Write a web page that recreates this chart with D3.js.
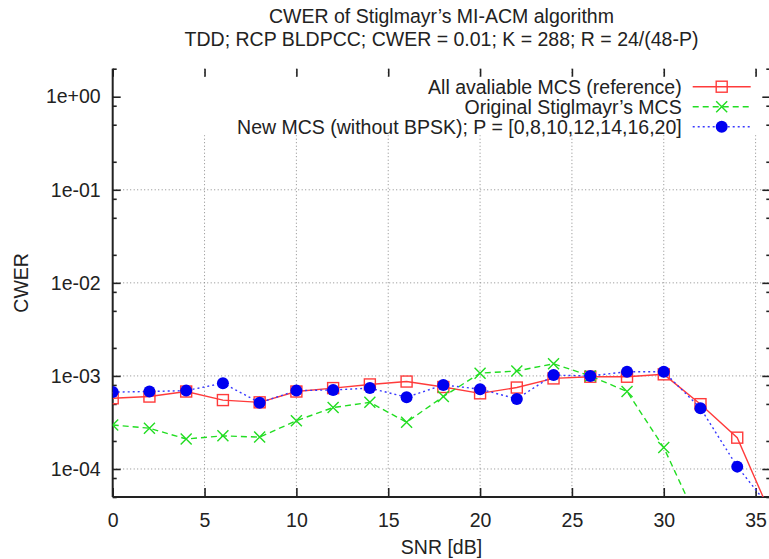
<!DOCTYPE html>
<html>
<head>
<meta charset="utf-8">
<script src="https://cdnjs.cloudflare.com/ajax/libs/d3/7.8.5/d3.min.js"></script>
<style>
    body { margin: 0; background: #fff; }
    svg text { font-family: "Liberation Sans", Arial, Helvetica, sans-serif; fill: #222; }
</style>
</head>
<body>
<div id="chart"></div>
<script>
    'use strict';

    // SNR points in dB
    var snr = [0, 2, 4, 6, 8, 10, 12, 14, 16, 18, 20, 22, 24, 26, 28, 30, 32, 34, 36];

    // CWER values
    var cwerReference = [5.75e-4, 6.0e-4, 6.8e-4, 5.5e-4, 5.2e-4, 6.8e-4, 7.4e-4, 8.1e-4, 8.7e-4, 7.6e-4,
        6.5e-4, 7.5e-4, 9.4e-4, 9.8e-4, 9.8e-4, 1.04e-3, 4.97e-4, 2.17e-4, 2.7e-5];
    var cwerOriginal = [2.97e-4, 2.74e-4, 2.1e-4, 2.27e-4, 2.2e-4, 3.3e-4, 4.57e-4, 5.2e-4, 3.18e-4, 6.0e-4,
        1.07e-3, 1.13e-3, 1.35e-3, 1.0e-3, 6.8e-4, 1.7e-4, 2.4e-5];
    var cwerNew = [6.7e-4, 6.8e-4, 6.95e-4, 8.35e-4, 5.16e-4, 6.95e-4, 7.07e-4, 7.4e-4, 5.9e-4, 8.0e-4,
        7.2e-4, 5.66e-4, 1.02e-3, 1.0e-3, 1.11e-3, 1.11e-3, 4.5e-4, 1.06e-4, 3.4e-5];

    var seriesNames = [
        'All avaliable MCS (reference)',
        'Original Stiglmayr\u2019s MCS',
        'New MCS (without BPSK); P = [0,8,10,12,14,16,20]'
    ];

    var xTicks = [0, 5, 10, 15, 20, 25, 30, 35];
    var yTicks = [1e-4, 1e-3, 1e-2, 1e-1, 1e0];
    var yTickLabels = ['1e-04', '1e-03', '1e-02', '1e-01', '1e+00'];
    var yMinorMantissa = [2, 5, 8];

    var titleLines = [
        'CWER of Stiglmayr\u2019s MI-ACM algorithm',
        'TDD; RCP BLDPCC; CWER = 0.01; K = 288; R = 24/(48-P)'
    ];

    var width = 769, height = 559;
    var margin = {top: 68.7, right: -1.3, bottom: 62, left: 112.7};
    var plotW = width - margin.left - margin.right;
    var plotH = height - margin.top - margin.bottom;
    var fontSize = 19.5;

    var svg = d3.select('#chart').append('svg')
        .attr('width', width)
        .attr('height', height);

    var x = d3.scaleLinear().domain([0, 35.8]).range([0, plotW]);
    var y = d3.scaleLog().domain([5e-5, 2]).range([plotH, 0]);

    // minor ticks on the log axis
    var yMinor = [];
    [-5, -4, -3, -2, -1, 0].forEach(function (e) {
        yMinorMantissa.forEach(function (m) {
            var v = m * Math.pow(10, e);
            if (v >= 5e-5 && v <= 2) yMinor.push(v);
        });
    });

    svg.append('defs').append('clipPath').attr('id', 'plotClip')
        .append('rect').attr('width', plotW).attr('height', plotH);

    var g = svg.append('g')
        .attr('transform', 'translate(' + margin.left + ',' + margin.top + ')');

    // grid
    var grid = g.append('g').attr('stroke', '#8a8a8a').attr('stroke-width', 1)
        .attr('stroke-dasharray', '1,2.5');
    grid.selectAll('.gx').data(xTicks.filter(function (d) { return d > 0; }))
        .enter().append('line')
        .attr('x1', function (d) { return x(d); })
        .attr('x2', function (d) { return x(d); })
        .attr('y1', 0).attr('y2', plotH);
    grid.selectAll('.gy').data(yTicks)
        .enter().append('line')
        .attr('y1', function (d) { return y(d); })
        .attr('y2', function (d) { return y(d); })
        .attr('x1', 0).attr('x2', plotW);

    // opaque key area hides the grid behind it
    g.append('rect')
        .attr('x', 2).attr('y', 8.5)
        .attr('width', plotW).attr('height', 58)
        .attr('fill', '#fff');

    // axes: left and bottom, ticks mirrored inward on top and right
    var axisColor = '#222';
    function styleTicks(s) {
        s.select('.domain').remove();
        s.selectAll('line').attr('stroke', axisColor).attr('stroke-width', 1.6);
    }

    var yAxis = g.append('g').call(d3.axisLeft(y).tickValues(yTicks).tickSize(-8).tickFormat(function (d, i) {
        return yTickLabels[i];
    }));
    yAxis.select('.domain').attr('d', 'M0,0V' + plotH).attr('stroke', axisColor).attr('stroke-width', 2);
    yAxis.selectAll('.tick line').attr('stroke', axisColor).attr('stroke-width', 1.6);
    yAxis.selectAll('.tick text').attr('x', -12).attr('font-size', fontSize).style('fill', '#222')
        .attr('font-family', null);

    g.append('g').call(d3.axisLeft(y).tickValues(yMinor).tickSize(-4).tickFormat(''))
        .call(styleTicks);

    // mirrored ticks on the right edge
    g.append('g').attr('transform', 'translate(' + plotW + ',0)')
        .call(d3.axisRight(y).tickValues(yTicks).tickSize(-8).tickFormat(''))
        .call(styleTicks);
    g.append('g').attr('transform', 'translate(' + plotW + ',0)')
        .call(d3.axisRight(y).tickValues(yMinor).tickSize(-4).tickFormat(''))
        .call(styleTicks);

    var xAxis = g.append('g').attr('transform', 'translate(0,' + plotH + ')')
        .call(d3.axisBottom(x).tickValues(xTicks).tickSize(-9).tickFormat(d3.format('d')));
    xAxis.select('.domain').attr('d', 'M0,0H' + plotW).attr('stroke', axisColor).attr('stroke-width', 2);
    xAxis.selectAll('.tick line').attr('stroke', axisColor).attr('stroke-width', 1.6);
    xAxis.selectAll('.tick text').attr('y', 16).attr('font-size', fontSize).style('fill', '#222')
        .attr('font-family', null);

    g.append('g')
        .call(d3.axisTop(x).tickValues(xTicks).tickSize(-8).tickFormat(''))
        .call(styleTicks);

    // series
    var series = [
        {values: cwerReference, color: '#ff3b3b', dash: null, marker: 'square'},
        {values: cwerOriginal, color: '#22dd22', dash: '6,4', marker: 'cross'},
        {values: cwerNew, color: '#3838ff', dash: '2,3', marker: 'circle'}
    ];

    var line = d3.line()
        .x(function (d) { return x(d[0]); })
        .y(function (d) { return y(d[1]); });

    function drawMarker(sel, kind, color) {
        if (kind === 'square') {
            sel.append('rect').attr('x', -5.5).attr('y', -5.5).attr('width', 11).attr('height', 11)
                .attr('fill', 'none').attr('stroke', color).attr('stroke-width', 1.4);
        } else if (kind === 'cross') {
            sel.append('path').attr('d', 'M-5.5,-5.5L5.5,5.5M-5.5,5.5L5.5,-5.5')
                .attr('fill', 'none').attr('stroke', color).attr('stroke-width', 1.4);
        } else {
            sel.append('circle').attr('r', 6).attr('fill', '#0000f0');
        }
    }

    var plot = g.append('g').attr('clip-path', 'url(#plotClip)');
    series.forEach(function (s) {
        var pts = s.values.map(function (v, i) { return [snr[i], v]; });
        plot.append('path').datum(pts)
            .attr('d', line)
            .attr('fill', 'none')
            .attr('stroke', s.color)
            .attr('stroke-width', 1.4)
            .attr('stroke-dasharray', s.dash);
        plot.selectAll(null).data(pts).enter().append('g')
            .attr('transform', function (d) { return 'translate(' + x(d[0]) + ',' + y(d[1]) + ')'; })
            .each(function () { drawMarker(d3.select(this), s.marker, s.color); });
    });

    // key
    var key = g.append('g').attr('transform', 'translate(0,18)');
    series.forEach(function (s, i) {
        var row = key.append('g').attr('transform', 'translate(0,' + (i * 20) + ')');
        row.append('text')
            .attr('x', 569)
            .attr('dy', '0.35em')
            .attr('text-anchor', 'end')
            .attr('font-size', fontSize)
            .text(seriesNames[i]);
        row.append('line')
            .attr('x1', 580).attr('x2', 638)
            .attr('stroke', s.color).attr('stroke-width', 1.4)
            .attr('stroke-dasharray', s.dash);
        var m = row.append('g').attr('transform', 'translate(609,0)');
        drawMarker(m, s.marker, s.color);
    });

    // titles and axis labels
    svg.selectAll('.title').data(titleLines).enter().append('text')
        .attr('x', margin.left + plotW / 2)
        .attr('y', function (d, i) { return 23 + i * 23; })
        .attr('text-anchor', 'middle')
        .attr('font-size', fontSize)
        .text(function (d) { return d; });

    svg.append('text')
        .attr('x', margin.left + plotW / 2)
        .attr('y', 554)
        .attr('text-anchor', 'middle')
        .attr('font-size', fontSize)
        .text('SNR [dB]');

    svg.append('text')
        .attr('transform', 'translate(28,' + (margin.top + plotH / 2) + ') rotate(-90)')
        .attr('text-anchor', 'middle')
        .attr('font-size', fontSize)
        .text('CWER');
</script>
</body>
</html>
